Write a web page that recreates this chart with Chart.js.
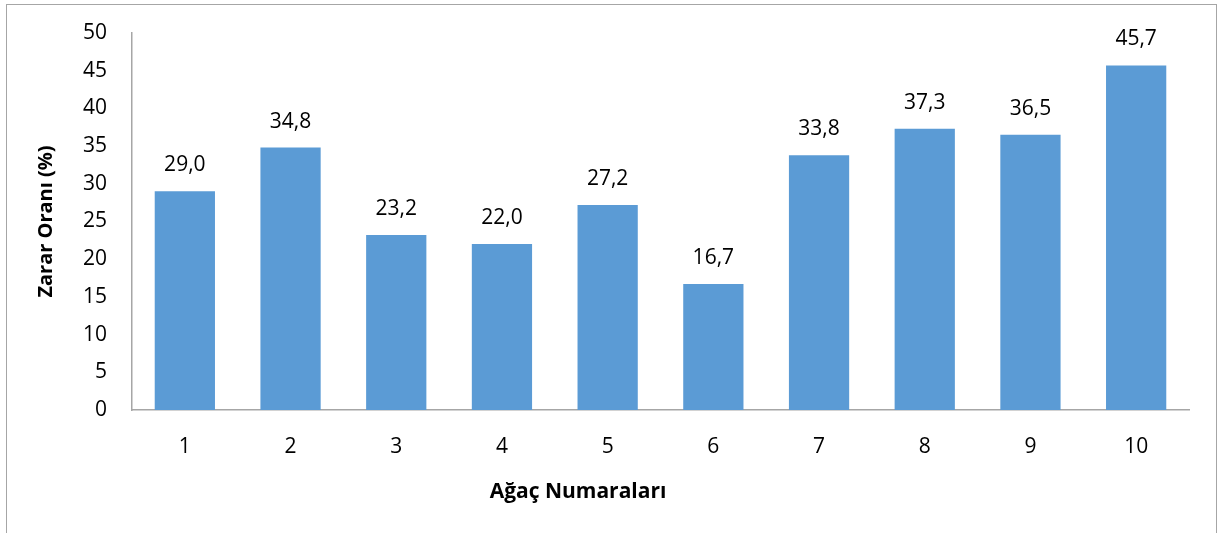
<!DOCTYPE html>
<html>
<head>
<meta charset="utf-8">
<script src="https://cdn.jsdelivr.net/npm/chart.js@4.4.1/dist/chart.umd.min.js"></script>
<style>
  html, body { margin: 0; padding: 0; background: #fff; overflow: hidden; }
  #wrap { position: absolute; left: 0; top: 0; width: 1226px; height: 533px; }
  #frame { position: absolute; left: 6px; top: 4px; width: 1211px; height: 600px;
           border: 1px solid #a6a6a6; box-sizing: border-box; pointer-events: none; }
</style>
</head>
<body>
<div id="wrap"><canvas id="c" width="1226" height="533"></canvas></div>
<div id="frame"></div>
<script>
// Ağaç numaraları ve zarar oranları (%)
const treeNumbers = ['1', '2', '3', '4', '5', '6', '7', '8', '9', '10'];
const damageRates = [29.0, 34.8, 23.2, 22.0, 27.2, 16.7, 33.8, 37.3, 36.5, 45.7];
const yTitle = 'Zarar Oranı (%)';
const xTitle = 'Ağaç Numaraları';

const FONT = "'Open Sans', 'Noto Sans', sans-serif";
const fmt = v => v.toFixed(1).replace('.', ',');

// Değer etiketleri (çubukların üstünde)
const valueLabels = {
  id: 'valueLabels',
  afterDatasetsDraw(chart) {
    const ctx = chart.ctx;
    const meta = chart.getDatasetMeta(0);
    ctx.save();
    ctx.font = `21px ${FONT}`;
    ctx.fillStyle = '#000';
    ctx.textAlign = 'center';
    ctx.textBaseline = 'middle';
    meta.data.forEach((bar, i) => {
      ctx.fillText(fmt(damageRates[i]), bar.x, bar.y - 26);
    });
    ctx.restore();
  }
};

// Yatay eksen başlığı
const xAxisTitle = {
  id: 'xAxisTitle',
  afterDraw(chart) {
    const ctx = chart.ctx;
    ctx.save();
    ctx.font = `bold 21px ${FONT}`;
    ctx.fillStyle = '#000';
    ctx.textAlign = 'center';
    ctx.textBaseline = 'middle';
    ctx.fillText(xTitle, 578, 492);
    ctx.restore();
  }
};

new Chart(document.getElementById('c'), {
  type: 'bar',
  data: {
    labels: treeNumbers,
    datasets: [{
      data: damageRates,
      backgroundColor: '#5b9bd5',
      borderWidth: 0,
      barPercentage: 0.57,
      categoryPercentage: 1.0
    }]
  },
  options: {
    responsive: false,
    animation: false,
    events: [],
    layout: { padding: { left: 0, right: 37, top: 33, bottom: 0 } },
    plugins: { legend: { display: false }, tooltip: { enabled: false } },
    scales: {
      x: {
        grid: { display: false, drawTicks: false },
        border: { display: true, color: '#a6a6a6', width: 1.5 },
        ticks: { color: '#000', font: { family: FONT, size: 21 }, padding: 24 },
        afterFit: s => { s.height = 123; s.paddingLeft = 0; s.paddingRight = 0; }
      },
      y: {
        min: 0, max: 50,
        grid: { display: false, drawTicks: false },
        border: { display: true, color: '#a6a6a6', width: 1.5 },
        ticks: { stepSize: 5, color: '#000', font: { family: FONT, size: 21 }, padding: 25 },
        title: {
          display: true, text: yTitle, color: '#000',
          font: { family: FONT, size: 20, weight: 'bold' },
          padding: { top: 34, bottom: 0 }
        },
        afterFit: s => { s.width = 132; s.paddingTop = 0; s.paddingBottom = 0; }
      }
    }
  },
  plugins: [valueLabels, xAxisTitle]
});
</script>
</body>
</html>
